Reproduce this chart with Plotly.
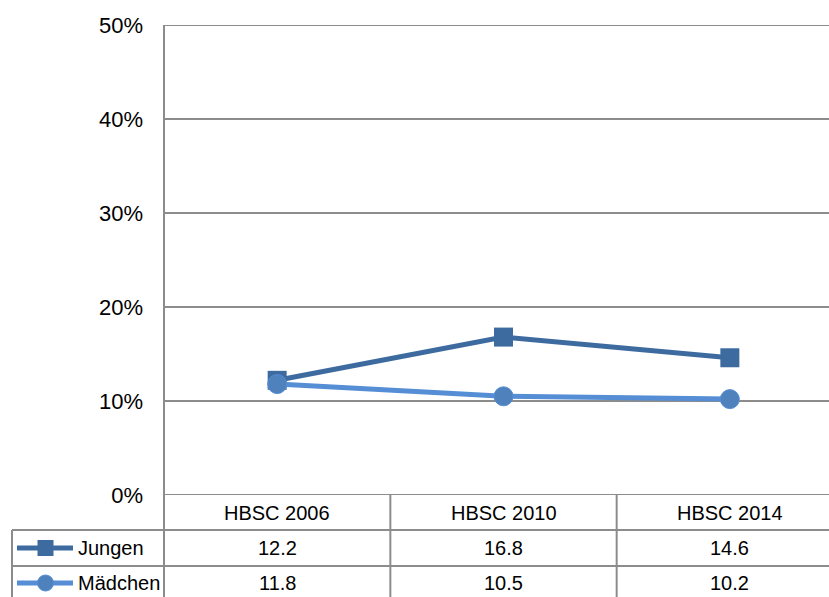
import plotly.graph_objects as go

categories = ["HBSC 2006", "HBSC 2010", "HBSC 2014"]
jungen = [12.2, 16.8, 14.6]
maedchen = [11.8, 10.5, 10.2]
series_names = ["Jungen", "Mädchen"]
y_ticks = [0, 10, 20, 30, 40, 50]
y_tick_labels = ["0%", "10%", "20%", "30%", "40%", "50%"]

W, H = 829, 597
FONT = "Liberation Sans Narrow, Arial Narrow, Liberation Sans, Arial"
TICKFONT = "Liberation Sans, Arial"
C_J = "#3E6B9F"
C_M_LINE = "#558ED5"
C_M_MARK = "#4F81BD"
GRID = "#8C8C8C"

def px(x):
    return x / W

def py(y):
    return 1 - y / H

xi = list(range(len(categories)))

fig = go.Figure()
fig.add_trace(go.Scatter(
    x=xi, y=jungen, mode="lines+markers", name=series_names[0],
    line=dict(color=C_J, width=5),
    marker=dict(symbol="square", size=19, color=C_J),
))
fig.add_trace(go.Scatter(
    x=xi, y=maedchen, mode="lines+markers", name=series_names[1],
    line=dict(color=C_M_LINE, width=5),
    marker=dict(symbol="circle", size=19, color=C_M_MARK, line=dict(color=C_M_LINE, width=1)),
))

# visible plot area ends at window edge (last column is cut off)
x_right = 2.5 - (843 - 829) / 226.0

fig.update_layout(
    width=W, height=H,
    margin=dict(l=0, r=0, t=0, b=0),
    paper_bgcolor="white", plot_bgcolor="white",
    showlegend=False,
    xaxis=dict(domain=[px(164), 1], range=[-0.5, x_right], showgrid=False,
               showticklabels=False, zeroline=False, showline=False, fixedrange=True),
    yaxis=dict(domain=[py(495), py(25)], range=[0, 50], tickvals=y_ticks, ticktext=y_tick_labels,
               showgrid=True, gridcolor=GRID, gridwidth=1.5, zeroline=False, showline=False,
               ticks="", ticklabelstandoff=20, automargin=False,
               tickfont=dict(family=TICKFONT, size=22, color="black")),
)

shapes = []
# gridlines at the range ends (plotly omits them)
for v in (y_ticks[0], y_ticks[-1]):
    shapes.append(dict(type="line", xref="paper", yref="y", x0=px(164), x1=1, y0=v, y1=v,
                       line=dict(color=GRID, width=2), layer="below"))
# left axis line extending through the table
shapes.append(dict(type="line", xref="paper", yref="paper", x0=px(164), x1=px(164), y0=py(25), y1=0,
                   line=dict(color=GRID, width=2)))
# table horizontal lines
for yy in (530, 566):
    shapes.append(dict(type="line", xref="paper", yref="paper", x0=px(12), x1=1, y0=py(yy), y1=py(yy),
                       line=dict(color=GRID, width=2)))
# table left border
shapes.append(dict(type="line", xref="paper", yref="paper", x0=px(12), x1=px(12), y0=py(530), y1=0,
                   line=dict(color=GRID, width=2)))
# column dividers
for i in range(len(categories) - 1):
    shapes.append(dict(type="line", xref="x", yref="paper", x0=i + 0.5, x1=i + 0.5, y0=py(495), y1=0,
                       line=dict(color=GRID, width=2)))

# legend keys
row_y = [548, 583]
for yy, col in ((row_y[0], C_J), (row_y[1], C_M_LINE)):
    shapes.append(dict(type="line", xref="paper", yref="paper", x0=px(17), x1=px(73), y0=py(yy), y1=py(yy),
                       line=dict(color=col, width=5)))
shapes.append(dict(type="rect", xref="paper", yref="paper", x0=px(37.5), x1=px(53.5),
                   y0=py(row_y[0] - 8), y1=py(row_y[0] + 8), fillcolor=C_J, line=dict(width=0)))
shapes.append(dict(type="circle", xref="paper", yref="paper", x0=px(37.5), x1=px(53.5),
                   y0=py(row_y[1] - 8), y1=py(row_y[1] + 8), fillcolor=C_M_MARK,
                   line=dict(color=C_M_LINE, width=1)))
fig.update_layout(shapes=shapes)

annotations = []
tfont = dict(family=FONT, size=20, color="black")
for i, c in enumerate(categories):
    annotations.append(dict(x=i, y=py(513), xref="x", yref="paper", text=c, showarrow=False,
                            font=tfont, xanchor="center", yanchor="middle"))
    annotations.append(dict(x=i, y=py(row_y[0]), xref="x", yref="paper", text=f"{jungen[i]:.1f}",
                            showarrow=False, font=tfont, xanchor="center", yanchor="middle"))
    annotations.append(dict(x=i, y=py(row_y[1]), xref="x", yref="paper", text=f"{maedchen[i]:.1f}",
                            showarrow=False, font=tfont, xanchor="center", yanchor="middle"))
for name, yy in zip(series_names, row_y):
    annotations.append(dict(x=px(76), y=py(yy), xref="paper", yref="paper", text=name, showarrow=False,
                            font=tfont, xanchor="left", yanchor="middle"))
fig.update_layout(annotations=annotations)

fig.write_html("out.html", config={"displayModeBar": False},
               post_script="document.body.style.margin='0px';")
